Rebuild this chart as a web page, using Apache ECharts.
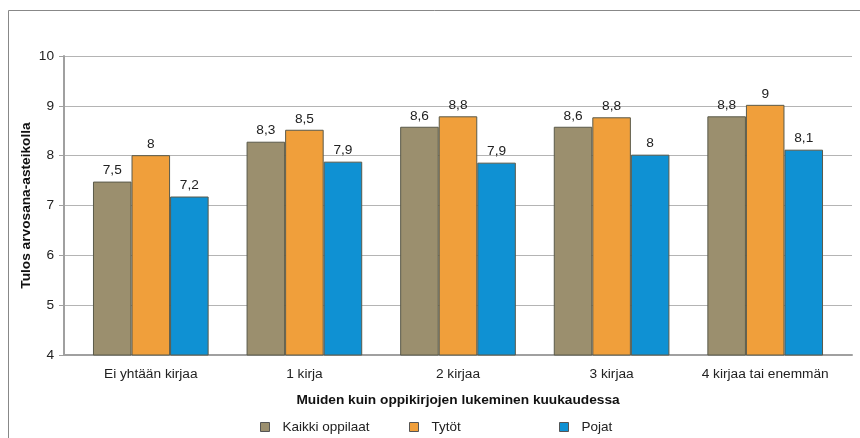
<!DOCTYPE html>
<html>
<head>
<meta charset="utf-8">
<script src="https://cdn.jsdelivr.net/npm/echarts@6/dist/echarts.min.js"></script>
<style>
    html, body { margin: 0; padding: 0; background: #fff; }
    #chart { width: 860px; height: 438px; }
</style>
</head>
<body>
<div id="chart"></div>
<script>
    var categories = ['Ei yhtään kirjaa', '1 kirja', '2 kirjaa', '3 kirjaa', '4 kirjaa tai enemmän'];
    var kaikki = [7.48, 8.28, 8.58, 8.58, 8.79];
    var tytot  = [8.01, 8.52, 8.79, 8.77, 9.02];
    var pojat  = [7.18, 7.88, 7.86, 8.02, 8.12];
    var colors = ['#9b8f6e', '#f09f3b', '#0f91d3'];

    var font = 'Liberation Sans, Arial, sans-serif';
    var fs = 13.7;

    function fmt(p) {
        var v = Math.round(p.value * 10) / 10;
        return String(v).replace('.', ',');
    }

    function makeSeries(name, data, color) {
        return {
            name: name,
            type: 'bar',
            xAxisIndex: 1,
            yAxisIndex: 1,
            data: data,
            barGap: '0%',
            barCategoryGap: '24.7%',
            itemStyle: { color: color, borderColor: '#5a5a4a', borderWidth: 1 },
            label: {
                show: true,
                position: 'top',
                distance: 4,
                formatter: fmt,
                color: '#222',
                fontFamily: font,
                fontSize: fs
            }
        };
    }

    function legendAt(name, left) {
        return {
            data: [name],
            left: left,
            top: 415,
            itemWidth: 9,
            itemHeight: 9,
            icon: 'rect',
            itemStyle: { borderColor: '#555', borderWidth: 1 },
            textStyle: { color: '#222', fontFamily: font, fontSize: 13.5, padding: [0, 0, 0, 8] }
        };
    }

    var chart = echarts.init(document.getElementById('chart'));
    chart.setOption({
        backgroundColor: '#fff',
        animation: false,
        graphic: [{
            type: 'rect',
            shape: { x: 8.5, y: 10.5, width: 900, height: 500 },
            style: { fill: 'none', stroke: '#888', lineWidth: 1 }
        }],
        legend: [
            legendAt('Kaikki oppilaat', 255),
            legendAt('Tytöt', 404),
            legendAt('Pojat', 554)
        ],
        // grid 0: axes frame + gridlines, grid 1: bars (inset 10px each side)
        grid: [
            { left: 64, right: 8, top: 56, bottom: 83 },
            { left: 74, right: 18, top: 56, bottom: 83 }
        ],
        xAxis: [{
            gridIndex: 0,
            type: 'category',
            data: categories,
            axisLine: { lineStyle: { color: '#a0a0a0', width: 2 } },
            axisTick: { show: false },
            axisLabel: { show: false }
        }, {
            gridIndex: 1,
            type: 'category',
            data: categories,
            name: 'Muiden kuin oppikirjojen lukeminen kuukaudessa',
            nameLocation: 'middle',
            nameGap: 38,
            nameMoveOverlap: false,
            nameTextStyle: { fontFamily: font, fontSize: fs, fontWeight: 'bold', color: '#111' },
            axisLine: { show: false },
            axisTick: { show: false },
            axisLabel: { interval: 0, color: '#222', fontFamily: font, fontSize: fs, margin: 12 }
        }],
        yAxis: [{
            gridIndex: 0,
            type: 'value',
            min: 4,
            max: 10,
            interval: 1,
            name: 'Tulos arvosana-asteikolla',
            nameLocation: 'middle',
            nameGap: 31,
            nameMoveOverlap: false,
            nameTextStyle: { fontFamily: font, fontSize: fs, fontWeight: 'bold', color: '#111' },
            axisLine: { show: true, lineStyle: { color: '#a0a0a0', width: 2 } },
            axisTick: { show: true, length: 5, lineStyle: { color: '#a0a0a0' } },
            axisLabel: { color: '#222', fontFamily: font, fontSize: fs, margin: 10 },
            splitLine: { lineStyle: { color: '#b4b4b4', width: 1 } }
        }, {
            gridIndex: 1,
            type: 'value',
            min: 4,
            max: 10,
            show: false
        }],
        series: [
            makeSeries('Kaikki oppilaat', kaikki, colors[0]),
            makeSeries('Tytöt', tytot, colors[1]),
            makeSeries('Pojat', pojat, colors[2])
        ]
    });
</script>
</body>
</html>
